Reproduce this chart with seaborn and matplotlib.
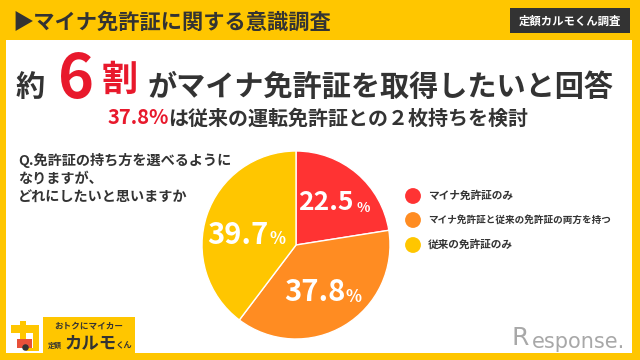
import matplotlib
matplotlib.use('Agg')
import matplotlib.pyplot as plt
import seaborn as sns
from matplotlib.patches import Rectangle

sns.set_theme(style='white')
plt.rcParams['font.family'] = ['Noto Sans CJK JP', 'DejaVu Sans']

categories = ['マイナ免許証のみ', 'マイナ免許証と従来の免許証の両方を持つ', '従来の免許証のみ']
values = [22.5, 37.8, 39.7]
value_labels = ['22.5', '37.8', '39.7']

YELLOW = '#FFC600'
DARK = '#333333'
RED = '#E8192C'
palette = sns.color_palette(['#FF3333', '#FF8C22', '#FFC600'])

fig = plt.figure(figsize=(6.4, 3.6), dpi=100, facecolor=YELLOW)

# fondo en pixeles
bg = fig.add_axes([0, 0, 1, 1], zorder=0)
bg.set_xlim(0, 640)
bg.set_ylim(360, 0)
bg.axis('off')
bg.add_patch(Rectangle((6, 40), 626, 313, color='white', lw=0))

# --- pie ---
cx, cy, r = 296, 245, 94
ax = fig.add_axes([(cx - r) / 640, 1 - (cy + r) / 360, 2 * r / 640, 2 * r / 360], zorder=1)
ax.pie(values, colors=palette, startangle=90, counterclock=False, radius=1)
ax.set_xlim(-1, 1)
ax.set_ylim(-1, 1)

fg = fig.add_axes([0, 0, 1, 1], zorder=2)
fg.set_xlim(0, 640)
fg.set_ylim(360, 0)
fg.axis('off')


def put(x, y, s, size, color=DARK, ha='left', weight='bold', **kw):
    fg.text(x, y, s, fontsize=size, color=color, ha=ha, va='center', fontweight=weight, **kw)


# cabecera
put(12, 22, '▶マイナ免許証に関する意識調査', 15.3)
fg.add_patch(Rectangle((510, 8), 120, 25, color=DARK, lw=0))
put(570, 21, '定額カルモくん調査', 8.2, color='white', ha='center')

# titulo
put(16, 87, '約', 21)
put(76, 80, '6', 44, color=RED, ha='center')
put(102, 80, '割', 26, color=RED)
put(148, 87, 'がマイナ免許証を取得したいと回答', 21)
put(108, 118, '37.8%', 14.5, color=RED)
put(168, 118, 'は従来の運転免許証との２枚持ちを検討', 14.4)

# pregunta
put(18, 160, 'Q.免許証の持ち方を選べるように', 10.2)
put(18, 179, 'なりますが、', 10.2)
put(18, 197, 'どれにしたいと思いますか', 10.2)

# etiquetas del pie
put(326, 202, value_labels[0], 19, color='white', ha='center')
put(363, 208, '%', 10, color='white', ha='center')
put(315, 292, value_labels[1], 21, color='white', ha='center')
put(354, 297, '%', 12, color='white', ha='center')
put(238, 235, value_labels[2], 21, color='white', ha='center')
put(277, 239, '%', 12, color='white', ha='center')

# leyenda
sns.scatterplot(x=[413, 413, 413], y=[196, 220, 245], hue=categories, palette=list(palette),
                s=130, linewidth=0, legend=False, ax=fg)
fg.set_xlim(0, 640)
fg.set_ylim(360, 0)
for y, cat, size in zip([196, 220, 245], categories, [7.7, 6.9, 7.7]):
    put(428, y, cat, size)

# logo
fg.add_patch(Rectangle((43, 317), 92, 36, color=YELLOW, lw=0))
put(89, 326, 'おトクにマイカー', 6.2, ha='center')
put(48, 345, '定額', 5, ha='left')
put(65, 343, 'カルモ', 12.5, ha='left')
put(116, 346, 'くん', 6, ha='left')
fg.add_patch(Rectangle((11, 325), 28, 8, color=YELLOW, lw=0))
fg.add_patch(Rectangle((20, 321), 6, 20, color=YELLOW, lw=0))
fg.add_patch(Rectangle((33, 325), 6, 26, color=YELLOW, lw=0))
fg.add_patch(Rectangle((26, 348), 13, 3, color=YELLOW, lw=0))
fg.add_patch(Rectangle((17, 339), 15, 9, color='#E8503A', lw=0))
fg.scatter([25], [347], s=22, color=DARK, linewidth=0)

# marca
put(511, 338, 'R', 18, color='#A8A8A8', weight='normal', family='DejaVu Sans')
put(532, 342, 'esponse.', 15, color='#A8A8A8', weight='normal', family='DejaVu Sans')

fig.savefig('out.png', dpi=100)
